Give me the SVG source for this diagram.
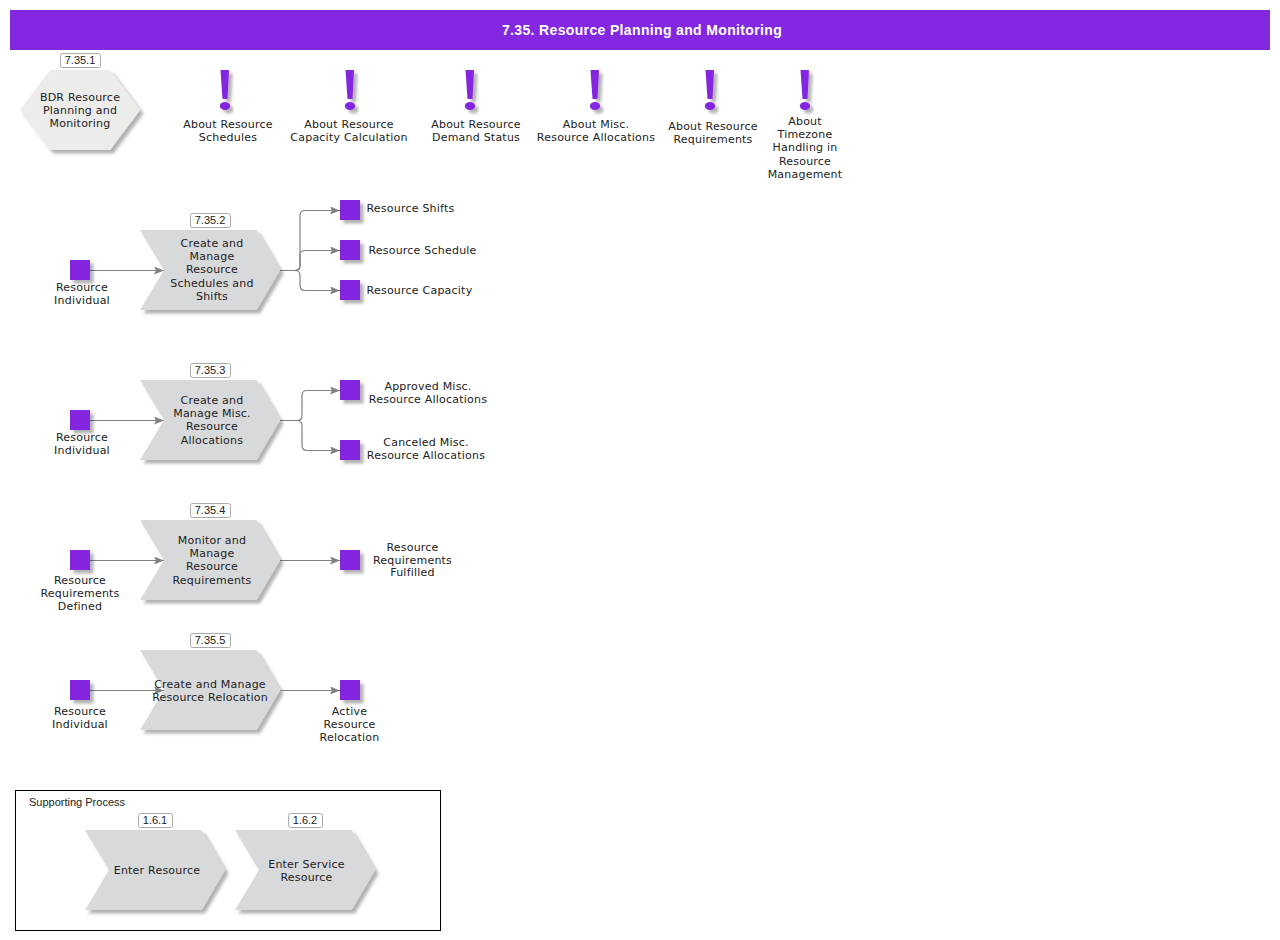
<svg xmlns="http://www.w3.org/2000/svg" width="1280" height="940" viewBox="0 0 1280 940">
<style>
text{font-family:"DejaVu Sans",Verdana,sans-serif;font-size:11px;fill:#222;text-anchor:middle;letter-spacing:.22px}
.tag text{font-family:"Liberation Sans",Arial,sans-serif;letter-spacing:0;font-size:11px}
.tag rect{fill:#fff;stroke:#aaa;stroke-width:1}
.fn{fill:#d8d9db;filter:url(#sh)}
.ev{fill:#8427e0;filter:url(#sh)}
.ex{fill:#8427e0;filter:url(#sh)}
.cn{fill:none;stroke:#808080;stroke-width:1.2}
</style>
<defs>
<filter id="sh" x="-20%" y="-20%" width="150%" height="150%"><feDropShadow dx="3.500" dy="3.500" stdDeviation="1.500" flood-color="#000" flood-opacity=".3"/></filter>
<marker id="a" markerUnits="userSpaceOnUse" markerWidth="11" markerHeight="9" refX="10" refY="4" orient="auto"><path d="M0 0L10 4L0 8L2 4Z" fill="#808080"/></marker>
<path id="chev" d="M0 0H116.500L140 40L116.500 80H0L24 40Z"/>
<g id="bang"><path d="M-4.500 0H4 L2.500 29 H-2.500Z"/><ellipse cx="0" cy="36" rx="5.200" ry="4"/></g>
</defs>
<rect width="1280" height="940" fill="#fff"/>
<g id="title"><rect x="10" y="10" width="1260" height="40" fill="#8427e0"/><text x="642" y="35" style="fill:#fff;font-family:'Liberation Sans',Arial,sans-serif;font-weight:bold;font-size:14px;letter-spacing:.35px">7.35. Resource Planning and Monitoring</text></g>
<g id="connectors">
<path class="cn" marker-end="url(#a)" d="M90 270.500H164"/>
<path class="cn" marker-end="url(#a)" d="M280 270.500H295Q300 270.500 300 265.500V215.500Q300 210.500 305 210.500H340"/>
<path class="cn" marker-end="url(#a)" d="M280 270.500H295Q300 270.500 300 265.500V255.500Q300 250.500 305 250.500H340"/>
<path class="cn" marker-end="url(#a)" d="M280 270.500H295Q300 270.500 300 275.500V285.500Q300 290.500 305 290.500H340"/>
<path class="cn" marker-end="url(#a)" d="M90 420.500H164"/>
<path class="cn" marker-end="url(#a)" d="M280 420.500H297Q302 420.500 302 415.500V395.500Q302 390.500 307 390.500H340"/>
<path class="cn" marker-end="url(#a)" d="M280 420.500H297Q302 420.500 302 425.500V445.500Q302 450.500 307 450.500H340"/>
<path class="cn" marker-end="url(#a)" d="M90 560.500H164"/>
<path class="cn" marker-end="url(#a)" d="M280 560.500H340"/>
</g>
<g id="n1"><path d="M50 70H110L140 110L110 150H50L20 110Z" fill="#ececeb" filter="url(#sh)"/><text x="80" y="101">BDR Resource</text><text x="80" y="114">Planning and</text><text x="80" y="127">Monitoring</text><g class="tag"><rect x="60.500" y="53.500" width="40" height="14" rx="2"/><text x="80" y="64">7.35.1</text></g></g>
<g id="a1"><use href="#bang" class="ex" x="225" y="70"/><text x="228" y="128">About Resource</text><text x="228" y="141">Schedules</text></g>
<g id="a2"><use href="#bang" class="ex" x="350" y="70"/><text x="349" y="128">About Resource</text><text x="349" y="141">Capacity Calculation</text></g>
<g id="a3"><use href="#bang" class="ex" x="470" y="70"/><text x="476" y="128">About Resource</text><text x="476" y="141">Demand Status</text></g>
<g id="a4"><use href="#bang" class="ex" x="595" y="70"/><text x="596" y="128">About Misc.</text><text x="596" y="141">Resource Allocations</text></g>
<g id="a5"><use href="#bang" class="ex" x="710" y="70"/><text x="713" y="130">About Resource</text><text x="713" y="143">Requirements</text></g>
<g id="a6"><use href="#bang" class="ex" x="805" y="70"/><text x="805" y="125">About</text><text x="805" y="138">Timezone</text><text x="805" y="151">Handling in</text><text x="805" y="165">Resource</text><text x="805" y="178">Management</text></g>
<g id="e1"><rect class="ev" x="70" y="260" width="20" height="20"/><text x="82" y="291">Resource</text><text x="82" y="304">Individual</text></g>
<g id="f2"><use href="#chev" class="fn" x="140" y="230"/><text x="212" y="247">Create and</text><text x="212" y="260">Manage</text><text x="212" y="273">Resource</text><text x="212" y="287">Schedules and</text><text x="212" y="300">Shifts</text><g class="tag"><rect x="190.500" y="213.500" width="40" height="14" rx="2"/><text x="210" y="224">7.35.2</text></g></g>
<g id="e2"><rect class="ev" x="340" y="200" width="20" height="20"/><text x="410.500" y="212">Resource Shifts</text></g>
<g id="e3"><rect class="ev" x="340" y="240" width="20" height="20"/><text x="422.500" y="254">Resource Schedule</text></g>
<g id="e4"><rect class="ev" x="340" y="280" width="20" height="20"/><text x="419.500" y="294">Resource Capacity</text></g>
<g id="e5"><rect class="ev" x="70" y="410" width="20" height="20"/><text x="82" y="441">Resource</text><text x="82" y="454">Individual</text></g>
<g id="f3"><use href="#chev" class="fn" x="140" y="380"/><text x="212" y="404">Create and</text><text x="212" y="417">Manage Misc.</text><text x="212" y="430">Resource</text><text x="212" y="444">Allocations</text><g class="tag"><rect x="190.500" y="363.500" width="40" height="14" rx="2"/><text x="210" y="374">7.35.3</text></g></g>
<g id="e6"><rect class="ev" x="340" y="380" width="20" height="20"/><text x="428" y="390">Approved Misc.</text><text x="428" y="403">Resource Allocations</text></g>
<g id="e7"><rect class="ev" x="340" y="440" width="20" height="20"/><text x="426" y="446">Canceled Misc.</text><text x="426" y="459">Resource Allocations</text></g>
<g id="e8"><rect class="ev" x="70" y="550" width="20" height="20"/><text x="80" y="584">Resource</text><text x="80" y="597">Requirements</text><text x="80" y="610">Defined</text></g>
<g id="f4"><use href="#chev" class="fn" x="140" y="520"/><text x="212" y="544">Monitor and</text><text x="212" y="557">Manage</text><text x="212" y="570">Resource</text><text x="212" y="584">Requirements</text><g class="tag"><rect x="190.500" y="503.500" width="40" height="14" rx="2"/><text x="210" y="514">7.35.4</text></g></g>
<g id="e9"><rect class="ev" x="340" y="550" width="20" height="20"/><text x="412.500" y="550.500">Resource</text><text x="412.500" y="563.500">Requirements</text><text x="412.500" y="576">Fulfilled</text></g>
<g id="f5"><use href="#chev" class="fn" x="140" y="650"/><g class="tag"><rect x="190.500" y="633.500" width="40" height="14" rx="2"/><text x="210" y="644">7.35.5</text></g></g>
<g id="connectors2"><path class="cn" marker-end="url(#a)" d="M90 690.500H164"/><path class="cn" marker-end="url(#a)" d="M280 690.500H340"/></g>
<g id="f5t"><text x="210" y="688">Create and Manage</text><text x="210" y="701">Resource Relocation</text></g>
<g id="e10"><rect class="ev" x="70" y="680" width="20" height="20"/><text x="80" y="715">Resource</text><text x="80" y="728">Individual</text></g>
<g id="e11"><rect class="ev" x="340" y="680" width="20" height="20"/><text x="349.500" y="715">Active</text><text x="349.500" y="728">Resource</text><text x="349.500" y="741">Relocation</text></g>
<g id="support"><rect x="15.500" y="790.500" width="425" height="140" fill="none" stroke="#000"/><text x="77" y="806" style="font-family:'Liberation Sans',Arial,sans-serif;letter-spacing:0">Supporting Process</text></g>
<g id="s1"><use href="#chev" class="fn" x="85" y="830"/><text x="157" y="874">Enter Resource</text><g class="tag"><rect x="138.500" y="813.500" width="34" height="14" rx="2"/><text x="155" y="824">1.6.1</text></g></g>
<g id="s2"><use href="#chev" class="fn" x="235" y="830"/><text x="306.500" y="868">Enter Service</text><text x="306.500" y="881">Resource</text><g class="tag"><rect x="288.500" y="813.500" width="34" height="14" rx="2"/><text x="305" y="824">1.6.2</text></g></g>
</svg>
